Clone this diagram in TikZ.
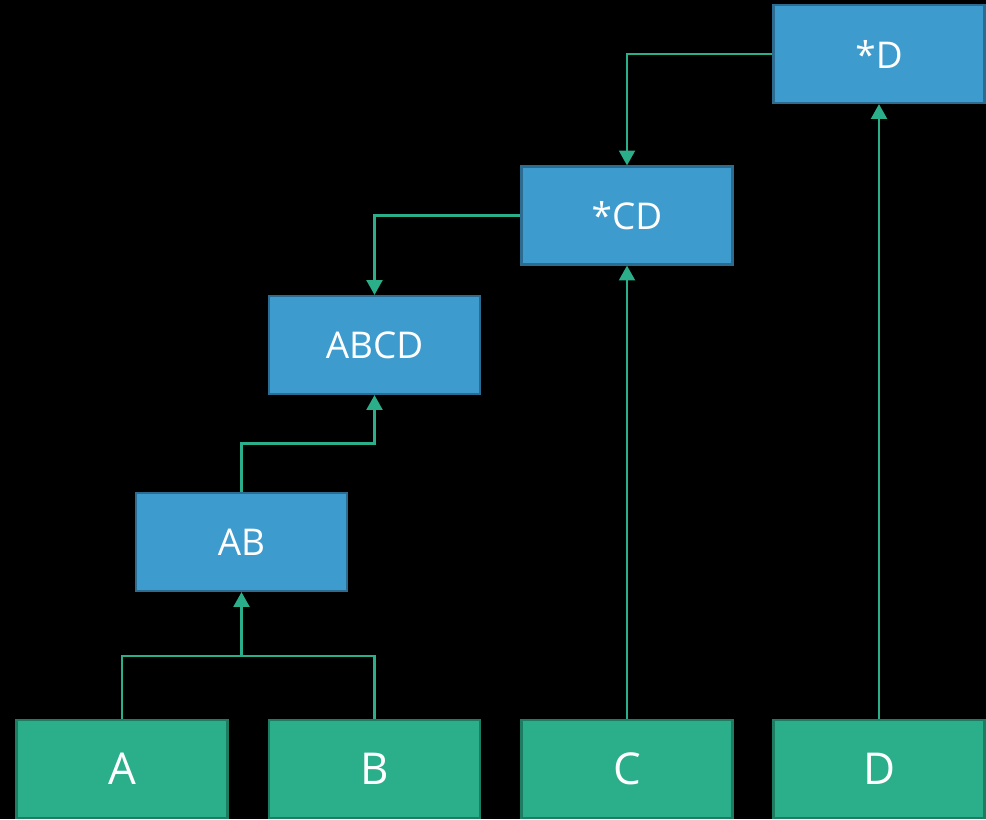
\documentclass[tikz,border=0pt]{standalone}
\usepackage{fontspec}
\setmainfont{Open Sans}
\usetikzlibrary{arrows.meta, calc}

\definecolor{mergeblue}{HTML}{3E9BCD}
\definecolor{mergeedge}{HTML}{2C6C90}
\definecolor{leafgreen}{HTML}{2BAE8A}
\definecolor{leafedge}{HTML}{1E7C62}

\begin{document}
\begin{tikzpicture}[%
    x=0.02cm, y=0.02cm,         % one unit is one pixel of the sketch
    >={Triangle[width=9pt, length=8.5pt]},
    ]

\tikzset{
  base/.style={draw, line width=1.2pt, rectangle, align=center, text=white,
               minimum width=4.22cm, minimum height=1.96cm, inner sep=0pt},
  leaf/.style={base, fill=leafgreen, draw=leafedge, font=\fontsize{25}{30}\selectfont},
  merge/.style={base, fill=mergeblue, draw=mergeedge, font=\fontsize{21}{26}\selectfont},
  link/.style={draw=leafgreen, line width=1.6pt}
  };

% background
\fill[black] (0,0) rectangle (986,819);
\useasboundingbox (0,0) rectangle (986,819);

% LEAVES
\node[leaf] (A) at (122,50) {A};
\node[leaf] (B) at (374.5,50) {B};
\node[leaf] (C) at (627,50) {C};
\node[leaf] (D) at (879,50) {D};

% MERGES
\node[merge] (AB) at (241.5,277) {AB};
\node[merge] (ABCD) at (374.5,474) {ABCD};
\node[merge] (starCD) at (627,603.5) {*CD};
\node[merge] (starD) at (879,765) {*D};

\coordinate (ABjoin) at (241.5,163);



\draw[link] (A.north) |- (ABjoin);
\draw[link] (B.north) |- (ABjoin);
\draw[link, ->] (ABjoin) -- (AB.south);
\draw[link, ->] (AB.north) |- ($(AB.north)!.5!(ABCD.south)$) -| (ABCD.south);

\draw[link, ->] (C.north) -- (starCD.south);
\draw[link, ->] (starCD.west) -| (ABCD.north);

\draw[link, ->] (D.north) -- (starD.south);
\draw[link, ->] (starD.west) -| (starCD.north);

\end{tikzpicture}
\end{document}
